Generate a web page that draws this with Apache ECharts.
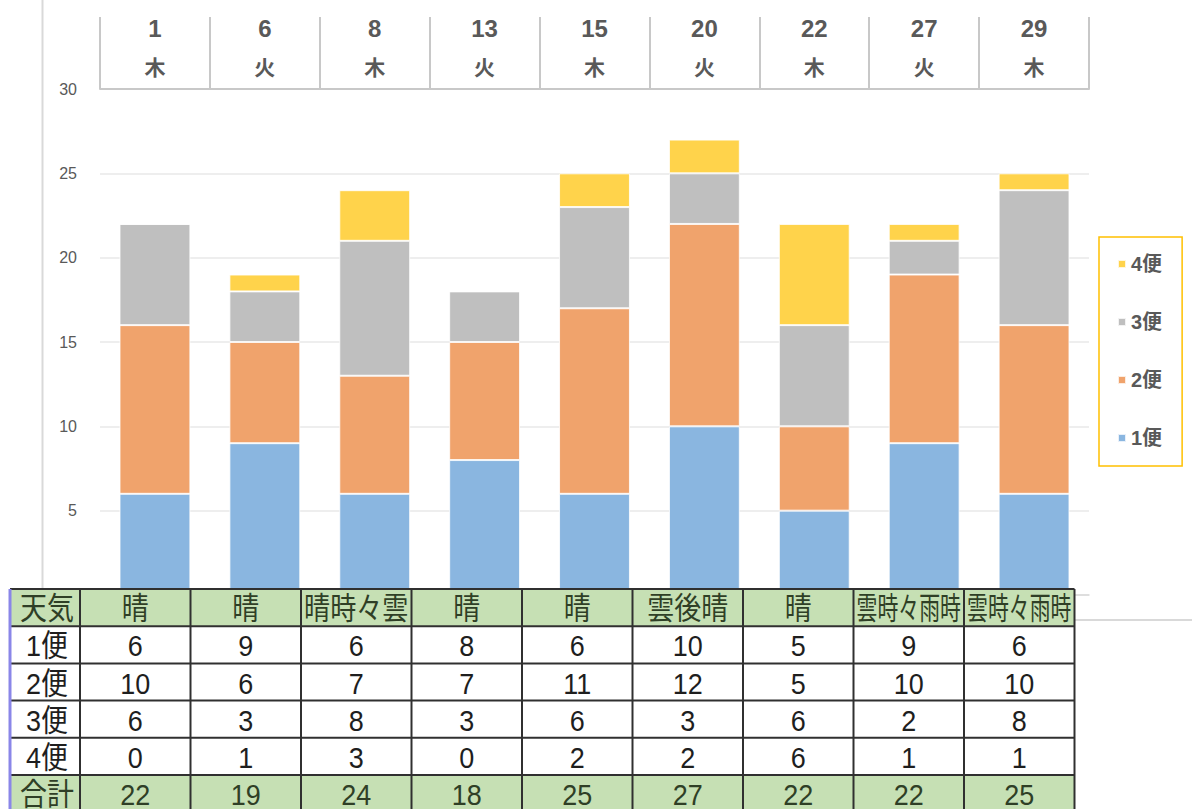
<!DOCTYPE html>
<html>
<head>
<meta charset="utf-8">
<script src="https://cdn.jsdelivr.net/npm/echarts@6/dist/echarts.min.js"></script>
<style>
  html, body { margin: 0; padding: 0; background: #fff; }
  #chart { width: 1192px; height: 809px; }
</style>
</head>
<body>
<div id="chart"></div>
<script>
// ---- data ----
const days = ['1', '6', '8', '13', '15', '20', '22', '27', '29'];
const weekdays = ['木', '火', '木', '火', '木', '火', '木', '火', '木'];
const weather = ['晴', '晴', '晴時々雲', '晴', '晴', '雲後晴', '晴', '雲時々雨時', '雲時々雨時'];
const bin1 = [6, 9, 6, 8, 6, 10, 5, 9, 6];
const bin2 = [10, 6, 7, 7, 11, 12, 5, 10, 10];
const bin3 = [6, 3, 8, 3, 6, 3, 6, 2, 8];
const bin4 = [0, 1, 3, 0, 2, 2, 6, 1, 1];
const totals = [22, 19, 24, 18, 25, 27, 22, 22, 25];
const seriesNames = ['1便', '2便', '3便', '4便'];
const rowLabels = ['天気', '1便', '2便', '3便', '4便', '合計'];
const yTicks = [0, 5, 10, 15, 20, 25, 30];

// ---- styling ----
const colors = ['#8AB6E0', '#F0A36C', '#BFBFBF', '#FFD34B'];
const labelColor = '#595959';
const tableFontFamily = "'Liberation Sans', 'Noto Sans CJK JP', sans-serif";
const tableFontSize = 27;

const chart = echarts.init(document.getElementById('chart'), null, { renderer: 'svg' });

const categories = days.map((d, i) => d + '\n' + weekdays[i]);
const seriesData = [bin1, bin2, bin3, bin4];

// table layout
const colX0 = 10, firstColW = 70, colW = 110.5;
const rowY0 = 589, rowH = 37.2;
const nCols = days.length;
const tableRight = colX0 + firstColW + colW * nCols;
const tableBottom = rowY0 + rowH * rowLabels.length;

const measureCanvas = document.createElement('canvas').getContext('2d');
function fitScale(text, maxW) {
  measureCanvas.font = tableFontSize + 'px ' + tableFontFamily;
  const w = measureCanvas.measureText(text).width;
  return w > maxW ? maxW / w : 1;
}

const graphics = [];
// chart-area border lines (left and bottom)
graphics.push({ type: 'line', z: 1, shape: { x1: 42.5, y1: 0, x2: 42.5, y2: 620 }, style: { stroke: '#D9D9D9', lineWidth: 2 } });
graphics.push({ type: 'line', z: 1, shape: { x1: 42, y1: 620, x2: 1192, y2: 620 }, style: { stroke: '#D9D9D9', lineWidth: 2 } });

// table backgrounds
rowLabels.forEach((lab, r) => {
  const green = (r === 0 || r === rowLabels.length - 1);
  graphics.push({
    type: 'rect', z: 10,
    shape: { x: colX0, y: rowY0 + r * rowH, width: tableRight - colX0, height: rowH },
    style: { fill: green ? '#C6E0B4' : '#FFFFFF' }
  });
});
// horizontal lines
for (let r = 0; r <= rowLabels.length; r++) {
  const y = rowY0 + r * rowH;
  graphics.push({ type: 'line', z: 11, shape: { x1: colX0, y1: y, x2: tableRight, y2: y }, style: { stroke: '#303030', lineWidth: 2 } });
}
// vertical lines
const colEdges = [colX0, colX0 + firstColW];
for (let c = 1; c <= nCols; c++) colEdges.push(colX0 + firstColW + c * colW);
colEdges.forEach((x, i) => {
  graphics.push({
    type: 'line', z: 11,
    shape: { x1: x, y1: rowY0, x2: x, y2: tableBottom },
    style: { stroke: i === 0 ? '#8A86E8' : '#303030', lineWidth: i === 0 ? 3 : 2 }
  });
});
// table text
function cellText(text, cx, cy, color, maxW) {
  const s = fitScale(text, maxW);
  graphics.push({
    type: 'text', z: 12,
    x: cx, y: cy, scaleX: s, scaleY: 1.12,
    style: {
      text: text, x: 0, y: 0,
      fill: color,
      font: tableFontSize + 'px ' + tableFontFamily,
      textAlign: 'center', textVerticalAlign: 'middle'
    }
  });
}
const bodyRows = [weather, bin1, bin2, bin3, bin4, totals];
rowLabels.forEach((lab, r) => {
  const cy = rowY0 + r * rowH + rowH / 2 + 1;
  const green = (r === 0 || r === rowLabels.length - 1);
  const col = green ? '#2F3F26' : '#1E1E1E';
  cellText(lab, colX0 + firstColW / 2 + 2, cy, col, firstColW - 6);
  bodyRows[r].forEach((v, c) => {
    const cx = colX0 + firstColW + c * colW + colW / 2;
    cellText(String(v), cx, cy, col, colW - 6);
  });
});

const option = {
  animation: false,
  backgroundColor: '#FFFFFF',
  color: colors,
  grid: { left: 100, right: 103, top: 89, bottom: 214, containLabel: false },
  legend: {
    orient: 'vertical',
    left: 1099, top: 237,
    data: ['4便', '3便', '2便', '1便'],
    icon: 'rect',
    itemWidth: 8, itemHeight: 8,
    itemGap: 38,
    padding: [17, 20, 18, 18],
    borderColor: '#FFC000', borderWidth: 1.5,
    textStyle: { color: labelColor, fontSize: 20, fontWeight: 'bold', fontFamily: "'Liberation Sans', 'Noto Sans CJK JP', sans-serif", lineHeight: 20 }
  },
  xAxis: [
    {
      type: 'category', position: 'top', data: categories,
      axisLine: { show: true, onZero: false, lineStyle: { color: '#C8C8C8', width: 2 } },
      axisTick: { show: true, interval: 0, length: 72, lineStyle: { color: '#C8C8C8', width: 2 } },
      axisLabel: {
        interval: 0, margin: 5,
        formatter: function (v) { const p = v.split('\n'); return '{n|' + p[0] + '}\n{d|' + p[1] + '}'; },
        rich: {
          n: { fontSize: 24, lineHeight: 37, color: labelColor, fontWeight: 'bold', fontFamily: "'Liberation Sans', sans-serif" },
          d: { fontSize: 21, lineHeight: 37, color: labelColor, fontWeight: 'bold', fontFamily: "'Noto Sans CJK JP', sans-serif" }
        }
      },
      splitLine: { show: false }
    },
    {
      type: 'category', position: 'bottom', data: categories,
      axisLine: { show: true, onZero: false, lineStyle: { color: '#D9D9D9', width: 1.5 } },
      axisTick: { show: false },
      axisLabel: { show: false }
    }
  ],
  yAxis: {
    type: 'value', min: yTicks[0], max: yTicks[yTicks.length - 1], interval: 5,
    axisLine: { show: false }, axisTick: { show: false },
    axisLabel: { color: labelColor, fontSize: 16, margin: 23, fontFamily: "'Liberation Sans', sans-serif" },
    splitLine: { lineStyle: { color: '#E8E8E8', width: 1.5 } }
  },
  series: seriesNames.map((name, i) => ({
    name: name,
    type: 'bar',
    stack: 'total',
    xAxisIndex: 0,
    barWidth: '64.5%',
    data: seriesData[i],
    itemStyle: { color: colors[i], borderColor: 'rgba(255,255,255,0.8)', borderWidth: 1 },
    emphasis: { disabled: true }
  })),
  graphic: graphics
};

chart.setOption(option);
</script>
</body>
</html>
